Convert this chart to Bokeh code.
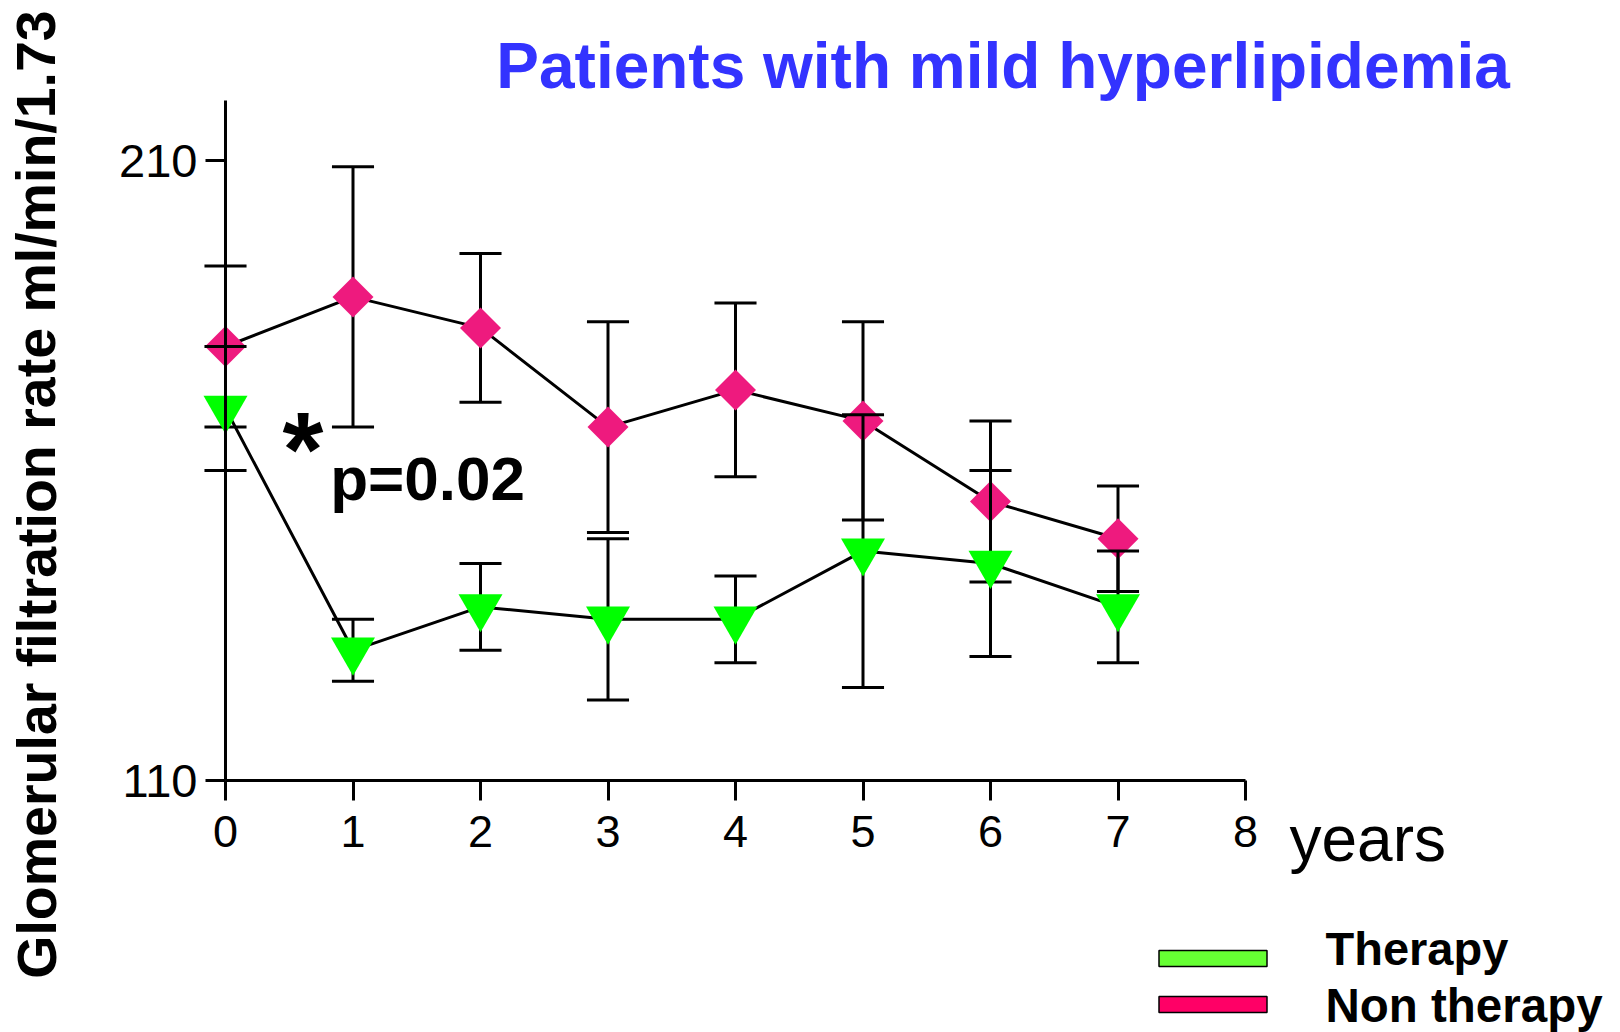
from bokeh.plotting import figure
from bokeh.models import (Range1d, FixedTicker, Label, Legend, LegendItem,
                          ColumnDataSource)
from bokeh.embed import file_html
from bokeh.resources import INLINE

# ---------------- data ----------------
years = [0, 1, 2, 3, 4, 5, 6, 7]
therapy_mean = [170, 131, 138, 136, 136, 147, 145, 138]
therapy_err = [10, 5, 7, 13, 7, 22, 15, 9]
non_therapy_mean = [180, 188, 183, 167, 173, 168, 155, 149]
non_therapy_err = [13, 21, 12, 17, 14, 16, 13, 8.5]
x_ticks = [0, 1, 2, 3, 4, 5, 6, 7, 8]
y_ticks = [110, 210]
series_names = ["Therapy", "Non therapy"]

FONT = "Liberation Sans"
PINK = "#EE1A7E"
GREEN = "#00FF00"
CAP = 0.165  # half cap width in x data units

W, H = 1620, 1032
X0_PX, PX_PER_X = 225.0, 127.5      # canvas x of year 0, pixels per year
Y210_PX, PX_PER_Y = 160.0, 6.2      # canvas y of 210, pixels per unit


def dx(px):
    return (px - X0_PX) / PX_PER_X


def dy(py):
    return 210 - (py - Y210_PX) / PX_PER_Y


p = figure(width=W, height=H, output_backend="svg", toolbar_location=None,
           x_range=Range1d(dx(0), dx(W)), y_range=Range1d(dy(H), dy(0)),
           min_border=0)
p.outline_line_color = None
p.grid.visible = False
p.background_fill_color = "white"
p.border_fill_color = "white"

for ax in (p.xaxis[0], p.yaxis[0]):
    ax.axis_line_width = 3
    ax.axis_line_color = "black"
    ax.major_tick_line_width = 3
    ax.major_tick_line_color = "black"
    ax.major_tick_out = 20
    ax.major_tick_in = 0
    ax.minor_tick_line_color = None
    ax.major_label_text_font = FONT
    ax.major_label_text_color = "black"

p.xaxis.major_label_text_font_size = "45px"
p.yaxis.major_label_text_font_size = "47px"
p.xaxis.major_label_standoff = 15
p.yaxis.major_label_standoff = 8
p.xaxis.ticker = FixedTicker(ticks=x_ticks)
p.yaxis.ticker = FixedTicker(ticks=y_ticks)
p.xaxis.bounds = (0, 8)
p.yaxis.bounds = (110, dy(100))
p.xaxis.fixed_location = 110
p.yaxis.fixed_location = 0


def draw(mean, err, color, marker, size, angle):
    src = ColumnDataSource(dict(
        x=years, y=mean,
        lo=[m - e for m, e in zip(mean, err)],
        hi=[m + e for m, e in zip(mean, err)],
        xl=[x - CAP for x in years],
        xr=[x + CAP for x in years],
    ))
    p.line("x", "y", source=src, line_color="black", line_width=3)
    p.segment(x0="x", y0="lo", x1="x", y1="hi", source=src,
              line_color="black", line_width=3)
    p.segment(x0="xl", y0="lo", x1="xr", y1="lo", source=src,
              line_color="black", line_width=3)
    p.segment(x0="xl", y0="hi", x1="xr", y1="hi", source=src,
              line_color="black", line_width=3)
    p.scatter("x", "y", source=src, marker=marker, size=size, angle=angle,
              fill_color=color, line_color=None)


draw(non_therapy_mean, non_therapy_err, PINK, "square", 29, 0.785398)
draw(therapy_mean, therapy_err, GREEN, "inverted_triangle", 44, 0)


def label(text, px, py, size, bold=True, color="black", **kw):
    p.add_layout(Label(x=dx(px), y=dy(py), text=text, text_font=FONT,
                       text_font_size=f"{size}px",
                       text_font_style="bold" if bold else "normal",
                       text_color=color, text_baseline="alphabetic", **kw))


# annotations (anchor positions in canvas pixels)
label("Patients with mild hyperlipidemia", 495.8, 88.5 - 0.357 * 64, 64,
      color="#3333FF")
p.add_layout(Label(x=dx(36.0), y=dy(494),
                   text="Glomerular filtration rate ml/min/1.73",
                   text_font=FONT, text_font_size="55.5px",
                   text_font_style="bold",
                   text_color="black", text_align="center",
                   text_baseline="alphabetic", angle=1.5708))
label("*", 282.1, 449.4, 105)
label("p=0.02", 329.7, 500 - 0.357 * 62, 62)
label("years", 1289, 861 - 0.357 * 64, 64, bold=False)
label(series_names[0], 1325, 965 - 0.357 * 47, 47)
label(series_names[1], 1325, 1022 - 0.357 * 47.5, 47.5)

# legend swatches
nan = float("nan")
hidden = dict(left=[nan], right=[nan], top=[nan], bottom=[nan])
r_g = p.quad(source=ColumnDataSource(hidden), left="left", right="right",
             top="top", bottom="bottom", fill_color="#66FF33",
             line_color="black", line_width=1.5)
r_p = p.quad(source=ColumnDataSource(dict(hidden)), left="left", right="right",
             top="top", bottom="bottom", fill_color="#FF0066",
             line_color="black", line_width=1.5)
for r, vy in ((r_g, 64), (r_p, 18)):
    lg = Legend(items=[LegendItem(label=" ", renderers=[r])],
                location=(1144.5, vy), glyph_width=135, glyph_height=20,
                padding=0, margin=0, spacing=0, label_standoff=0,
                label_width=0, label_height=20, label_text_font_size="1px",
                border_line_color=None, background_fill_alpha=0)
    p.add_layout(lg, "center")

open("out.html", "w").write(file_html(p, INLINE))
